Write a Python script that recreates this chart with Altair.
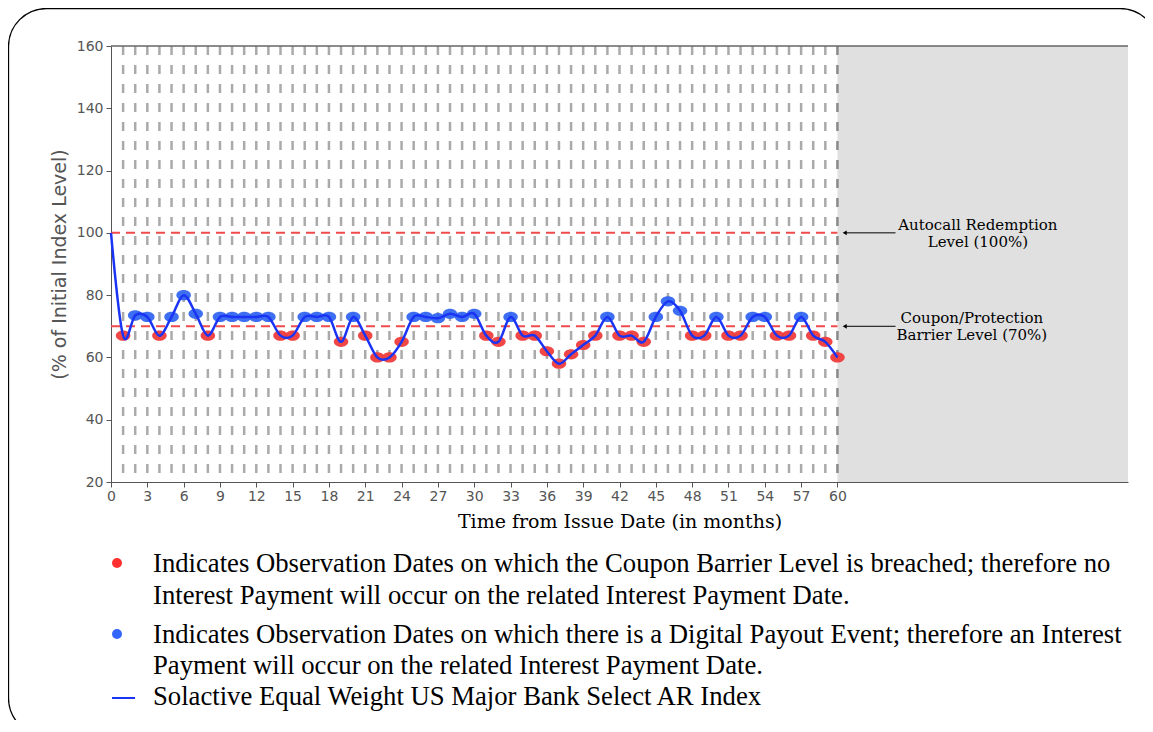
import altair as alt
import pandas as pd

# ---------------- data ----------------
months = list(range(0, 61))
index_level = [100, 67, 73.5, 73, 67, 73, 80, 74, 67, 73, 73, 73, 73, 73, 67, 67, 73, 73, 73, 65,
               73, 67, 60, 60, 65, 73, 73, 72.6, 74, 73, 74, 67, 65, 73, 67, 67, 62, 58, 61, 64,
               67, 73, 67, 67, 65, 73, 78, 75, 67, 67, 73, 67, 67, 73, 73, 67, 67, 73, 67, 65, 60]
obs_months = list(range(1, 60))          # dashed observation-date guides
maturity = 60
x_end = 84
y_min, y_max = 20, 160
x_ticks = list(range(0, 61, 3))
y_ticks = list(range(20, 161, 20))
barrier = 70
levels = [100, 70]
ann_line1 = ["Autocall Redemption", "Coupon/Protection"]
ann_line2 = ["Level (100%)", "Barrier Level (70%)"]
legend_red = ["Indicates Observation Dates on which the Coupon Barrier Level is breached; therefore no",
              "Interest Payment will occur on the related Interest Payment Date."]
legend_blue = ["Indicates Observation Dates on which there is a Digital Payout Event; therefore an Interest",
               "Payment will occur on the related Interest Payment Date."]
legend_line = "Solactive Equal Weight US Major Bank Select AR Index"

W, H = 1017, 436
RED = "#f03c3c"
BLUE = "#3466f0"
LINE = "#1a34f5"

series = pd.DataFrame({"month": months, "level": index_level})
X = alt.Scale(domain=[0, x_end], nice=False, zero=False)
Y = alt.Scale(domain=[y_min, y_max], nice=False, zero=False)

x_axis = alt.Axis(values=x_ticks, title="Time from Issue Date (in months)", grid=False,
                  labelFont="DejaVu Sans", labelFontSize=14, labelColor="#555",
                  tickColor="#555", domainColor="#555", tickSize=5, labelPadding=2,
                  titleFont="DejaVu Serif", titleFontSize=19, titleColor="#000",
                  titleFontWeight="normal", titlePadding=9, labelFlush=False)
y_axis = alt.Axis(values=y_ticks, title="(% of Initial Index Level)", grid=False,
                  labelFont="DejaVu Sans", labelFontSize=14, labelColor="#555",
                  tickColor="#555", domainColor="#555", tickSize=5, labelPadding=3,
                  titleFont="DejaVu Sans", titleFontSize=19, titleColor="#555",
                  titleFontWeight="normal", titlePadding=7)


def xq(field):
    return alt.X(field, type="quantitative", scale=X, axis=x_axis)


def yq(field):
    return alt.Y(field, type="quantitative", scale=Y, axis=y_axis)


one = alt.Data(values=[{}])

shade = alt.Chart(pd.DataFrame({"x": [maturity], "x2": [x_end]})).mark_rect(color="#e0e0e0").encode(
    x=xq("x"), x2="x2:Q", y=alt.value(0), y2=alt.value(H))

guides = alt.Chart(pd.DataFrame({"m": obs_months})).mark_rule(
    color="#aaaaaa", strokeWidth=2.5, strokeDash=[9, 10]).encode(
    x=xq("m"), y=alt.value(0), y2=alt.value(H))

mat_rule = alt.Chart(pd.DataFrame({"m": [maturity]})).mark_rule(
    color="#8a8a8a", strokeWidth=2.5, strokeDash=[9, 10]).encode(
    x=xq("m"), y=alt.value(0), y2=alt.value(H))

lvl = alt.Chart(pd.DataFrame({"lv": levels, "x0": [0, 0], "x1": [maturity, maturity]})).mark_rule(
    color="#f04a4a", strokeWidth=2, strokeDash=[9, 6]).encode(
    x=xq("x0"), x2="x1:Q", y=yq("lv"))

top = alt.Chart(one).mark_rule(color="#666", strokeWidth=1.5).encode(
    x=alt.value(0), x2=alt.value(W), y=alt.value(0))

ellipse = "M-1,0A1,0.7 0 1,0 1,0A1,0.7 0 1,0 -1,0Z"
dots = alt.Chart(series).transform_filter("datum.month >= 1").transform_calculate(
    status=f"datum.level < {barrier} ? 'breach' : 'payout'").mark_point(
    shape=ellipse, filled=True, size=210, opacity=0.95).encode(
    x=xq("month"), y=yq("level"),
    color=alt.Color("status:N", scale=alt.Scale(domain=["breach", "payout"], range=[RED, BLUE]), legend=None))

line = alt.Chart(series).mark_line(color=LINE, strokeWidth=2.5, interpolate="cardinal").encode(
    x=xq("month"), y=yq("level"))

ann = pd.DataFrame({"lv": levels, "l1": ann_line1, "l2": ann_line2,
                    "ax0": [64.8, 64.8], "ax1": [60.6, 60.6], "tx": [71.6, 71.1]})
arrows = alt.Chart(ann).mark_rule(color="black", strokeWidth=1).encode(
    x=xq("ax0"), x2="ax1:Q", y=yq("lv"))
heads = alt.Chart(ann).mark_point(shape="triangle-left", filled=True, color="black", size=22, opacity=1).encode(
    x=xq("ax1"), y=yq("lv"))
t1 = alt.Chart(ann).mark_text(font="DejaVu Serif", fontSize=15, color="black", align="center",
                              baseline="middle", dy=-8).encode(
    x=xq("tx"), y=yq("lv"), text="l1:N")
t2 = alt.Chart(ann).mark_text(font="DejaVu Serif", fontSize=15, color="black", align="center",
                              baseline="middle", dy=9).encode(
    x=xq("tx"), y=yq("lv"), text="l2:N")

# ---------------- legend (below the plot) ----------------
LX, LY0 = 42, 518
leg_layers = []
leg_layers.append(alt.Chart(one).mark_point(shape="circle", filled=True, color="#ff3030", size=100, opacity=1).encode(
    x=alt.value(6), y=alt.value(LY0 - 1)))
leg_layers.append(alt.Chart(one).mark_point(shape="circle", filled=True, color="#3366ff", size=100, opacity=1).encode(
    x=alt.value(6), y=alt.value(LY0 + 70)))
leg_layers.append(alt.Chart(one).mark_rule(color="#1a34f5", strokeWidth=2).encode(
    x=alt.value(1), x2=alt.value(24), y=alt.value(LY0 + 134)))
lines = [(legend_red[0], 0), (legend_red[1], 32), (legend_blue[0], 71), (legend_blue[1], 102), (legend_line, 133)]
for txt, off in lines:
    leg_layers.append(alt.Chart(one).mark_text(font="Liberation Serif", fontSize=26.7, color="black",
                                               align="left", baseline="middle", text=txt).encode(
        x=alt.value(LX), y=alt.value(LY0 + off)))

border = alt.Chart(one).mark_rect(filled=False, stroke="black", strokeWidth=1.3, cornerRadius=38).encode(
    x=alt.value(-102.5), x2=alt.value(1047), y=alt.value(-37.5), y2=alt.value(690))

chart = alt.layer(shade, guides, mat_rule, lvl, top, dots, line, arrows, heads, t1, t2,
                  *leg_layers, border).properties(
    width=W, height=H,
    padding={"left": 103, "top": 38, "right": 17, "bottom": 238},
    autosize=alt.AutoSizeParams(type="none"),
).configure_view(stroke=None)

chart.save("out.html", embed_options={"renderer": "svg", "actions": False})
